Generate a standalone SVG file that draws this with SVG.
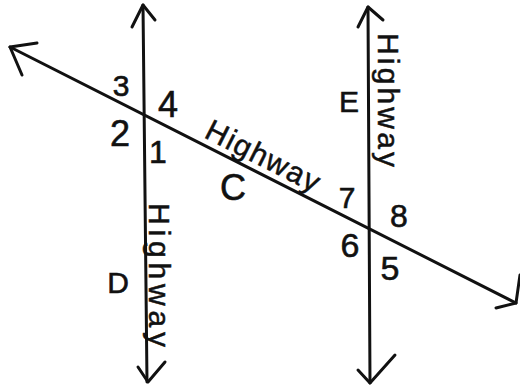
<svg xmlns="http://www.w3.org/2000/svg" width="520" height="390" viewBox="0 0 520 390">
<style>
.ln{stroke:#111;stroke-width:3;fill:none;stroke-linecap:round;stroke-linejoin:round}
.lb{font-family:"Liberation Sans","DejaVu Sans",sans-serif;fill:#111;text-anchor:middle;stroke:#111;stroke-width:0.6}
.hw{font-family:"Liberation Sans","DejaVu Sans",sans-serif;fill:#111;font-size:30px;stroke:#111;stroke-width:0.5}
</style>
<rect width="520" height="390" fill="#fff"/>
<g id="connectors">
  <g id="highway-left">
    <path class="ln" d="M143,5 L147,382"/>
    <path class="ln" d="M132,27 L143,5 L155,20"/>
    <path class="ln" d="M138,367 L148,382 L165,362"/>
  </g>
  <g id="highway-right">
    <path class="ln" d="M368,7 L370,383"/>
    <path class="ln" d="M358,27 L368,7 L383,20"/>
    <path class="ln" d="M358,370 L370,383 L395,355"/>
  </g>
  <g id="highway-transversal">
    <path class="ln" d="M10,47 L516,303"/>
    <path class="ln" d="M37,43 L10,47 L22,75"/>
    <path class="ln" d="M496,308 L516,303 L520,275"/>
  </g>
</g>
<g id="labels">
  <text class="hw" x="203" y="137" transform="rotate(26.9 203 137)" textLength="124" lengthAdjust="spacing">Highway</text>
  <text class="hw" x="149" y="203" transform="rotate(90 149 203)" textLength="144" lengthAdjust="spacing">Highway</text>
  <text class="hw" x="378" y="33" transform="rotate(90 378 33)" textLength="134" lengthAdjust="spacing">Highway</text>
  <text class="lb" x="121" y="96" font-size="30">3</text>
  <text class="lb" x="168" y="117" font-size="36">4</text>
  <text class="lb" x="120" y="146" font-size="36">2</text>
  <text class="lb" x="158" y="163" font-size="32">1</text>
  <text class="lb" x="233" y="200" font-size="36">C</text>
  <text class="lb" x="347" y="208" font-size="30">7</text>
  <text class="lb" x="399" y="227" font-size="32">8</text>
  <text class="lb" x="350" y="257" font-size="34">6</text>
  <text class="lb" x="390" y="280" font-size="34">5</text>
  <text class="lb" x="349" y="112" font-size="30">E</text>
  <text class="lb" x="118" y="293" font-size="30">D</text>
</g>
</svg>
